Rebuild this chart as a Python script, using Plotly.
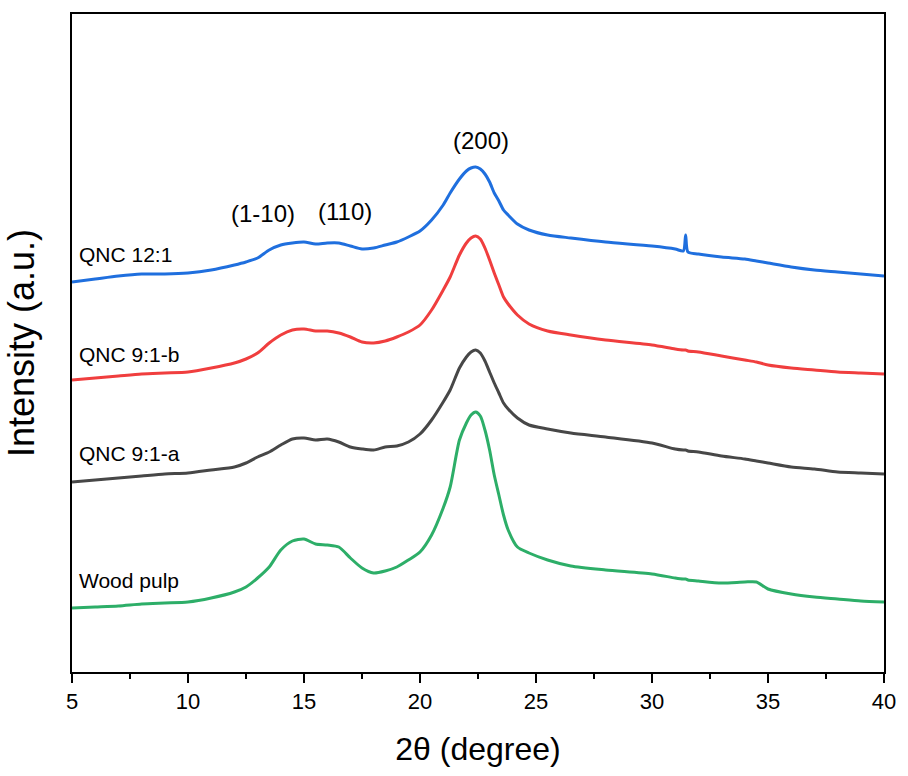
import plotly.graph_objects as go

# 2θ sampling positions (degrees)
two_theta = [5, 6, 7, 8, 9, 10, 11, 12, 12.5, 13, 13.5, 14, 14.5, 15, 15.5, 16, 16.5,
             17, 17.5, 18, 18.5, 19, 19.5, 20, 20.5, 21, 21.3, 21.7, 22.0, 22.2, 22.4,
             22.6, 22.8, 23.0, 23.2, 23.4, 23.6, 23.8, 24.2, 24.7, 25.5, 26.5, 28, 30,
             31, 31.35, 31.45, 31.55, 32, 33, 34, 34.5, 35, 36, 37, 38, 39, 40]

# Stacked intensities (a.u., offset per sample)
qnc_12_1 = [390, 393, 396, 398, 398, 399, 402, 407, 410, 414, 422, 427, 429, 430, 428, 429, 429,
            426, 423, 424, 427, 430, 435, 441, 452, 467, 479, 493, 501, 504, 505,
            503, 498, 490, 479, 471, 462, 457, 448, 442, 437, 434, 430, 426,
            423, 421, 437, 420, 418, 415, 413, 411, 409, 405, 402, 400, 398, 396]

qnc_9_1_b = [292, 294, 296, 298, 299, 300, 304, 309, 313, 319, 329, 337, 342, 343, 341, 341, 339,
             335, 330, 329, 331, 335, 340, 347, 362, 382, 395, 417, 429, 434, 436,
             433, 424, 412, 399, 387, 375, 368, 357, 348, 341, 337, 332, 327,
             323, 322, 322, 321, 320, 316, 312, 310, 307, 304, 302, 300, 299, 298]

qnc_9_1_a = [190, 192, 194, 196, 198, 199, 202, 205, 209, 215, 220, 227, 233, 234, 232, 233, 230,
             225, 223, 222, 225, 226, 230, 238, 252, 270, 282, 304, 315, 320, 322,
             319, 311, 300, 289, 279, 269, 263, 254, 247, 243, 239, 235, 229,
             223, 222, 222, 221, 220, 216, 213, 211, 209, 205, 203, 200, 199, 198]

wood_pulp = [64, 65, 66, 68, 69, 70, 74, 80, 85, 94, 105, 122, 131, 133, 128, 127, 125,
             114, 104, 99, 101, 105, 112, 120, 137, 164, 185, 232, 249, 257, 260,
             256, 242, 222, 197, 177, 157, 142, 125, 119, 112, 106, 102, 98,
             94, 93, 93, 92, 91, 89, 90, 90, 83, 78, 75, 73, 71, 70]

series = [
    ("QNC 12:1", qnc_12_1, "#1F6FDE", 418),
    ("QNC 9:1-b", qnc_9_1_b, "#F03E3E", 318),
    ("QNC 9:1-a", qnc_9_1_a, "#474747", 219),
    ("Wood pulp", wood_pulp, "#2DAE68", 92),
]

# Crystal plane labels: (text, 2θ, intensity)
planes = [("(1-10)", 13.22, 459), ("(110)", 16.77, 461), ("(200)", 22.63, 532)]

fig = go.Figure()
for name, vals, color, _ in series:
    fig.add_trace(go.Scatter(
        x=two_theta, y=vals, mode="lines", name=name,
        line=dict(color=color, width=3, shape="spline", smoothing=0.7),
        showlegend=False,
    ))

FONT = "Liberation Sans, Arial, sans-serif"

for name, _, _, ylab in series:
    fig.add_annotation(x=5.2, y=ylab, text=name, showarrow=False,
                       xanchor="left", yanchor="middle",
                       font=dict(family=FONT, size=21, color="black"))

for text, xp, yp in planes:
    fig.add_annotation(x=xp, y=yp, text=text, showarrow=False,
                       xanchor="center", yanchor="middle",
                       font=dict(family=FONT, size=24, color="black"))

fig.update_layout(
    width=908, height=776,
    margin=dict(l=72, r=18, t=14, b=104),
    paper_bgcolor="white", plot_bgcolor="white",
    font=dict(family=FONT, color="black"),
)

fig.update_xaxes(
    range=[5, 40], tickvals=[5, 10, 15, 20, 25, 30, 35, 40],
    ticks="outside", ticklen=9, tickwidth=2, tickcolor="black",
    minor=dict(tickvals=[7.5, 12.5, 17.5, 22.5, 27.5, 32.5, 37.5],
               ticks="outside", ticklen=5, tickwidth=2, tickcolor="black"),
    showline=True, linewidth=2, linecolor="black", mirror=True,
    showgrid=False, zeroline=False,
    tickfont=dict(family=FONT, size=22, color="black"),
    title=dict(text="2θ (degree)", font=dict(family=FONT, size=32, color="black"),
               standoff=24),
)

fig.update_yaxes(
    range=[0, 658], showticklabels=False, ticks="",
    showline=True, linewidth=2, linecolor="black", mirror=True,
    showgrid=False, zeroline=False,
    title=dict(text="Intensity (a.u.)", font=dict(family=FONT, size=36, color="black"),
               standoff=24),
)

fig.write_html("out.html")
